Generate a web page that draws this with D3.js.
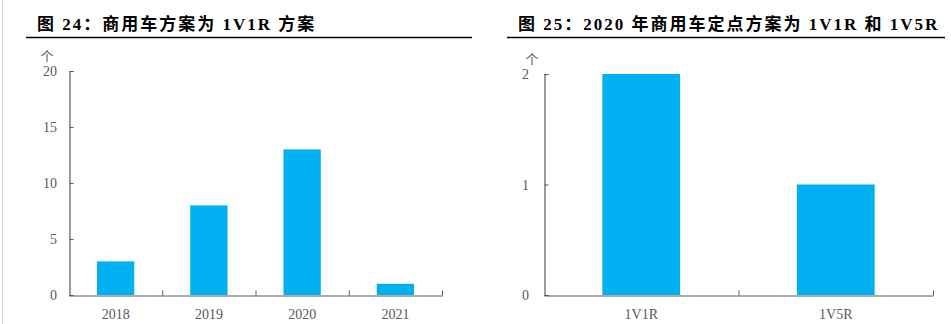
<!DOCTYPE html>
<html>
<head>
<meta charset="utf-8">
<script src="https://cdn.jsdelivr.net/npm/d3@7"></script>
<style>
  body { margin: 0; background: #fff; }
  svg { display: block; }
  .title { font-family: "Liberation Serif", "Noto Sans CJK SC", serif; font-weight: bold; font-size: 17px; fill: #000; letter-spacing: 2px; }
  .lbl { font-family: "Liberation Serif", serif; font-size: 14px; fill: #595959; }
  .unit { font-family: "Noto Sans CJK SC", sans-serif; font-size: 13px; fill: #595959; }
</style>
</head>
<body>
<svg id="chart" width="951" height="324"></svg>
<script>
// data
const years = ['2018', '2019', '2020', '2021']
const yearCounts = [3, 8, 13, 1]
const yearTicks = [0, 5, 10, 15, 20]

const schemes = ['1V1R', '1V5R']
const schemeCounts = [2, 1]
const schemeTicks = [0, 1, 2]

const barColor = '#00b0f0'
const axisColor = '#595959'

const svg = d3.select('#chart')

// faint page edge on the left
svg.append('line')
    .attr('x1', 2.5).attr('x2', 2.5).attr('y1', 0).attr('y2', 324)
    .attr('stroke', '#d9d9d9')

const panel = (opt) => {
  const g = svg.append('g')

  g.append('text')
      .attr('class', 'title')
      .attr('x', opt.titleX).attr('y', 30)
      .text(opt.title)

  g.append('line')
      .attr('x1', opt.ruleX[0]).attr('x2', opt.ruleX[1])
      .attr('y1', 37.5).attr('y2', 37.5)
      .attr('stroke', '#000').attr('stroke-width', 1.5)

  const x = d3.scaleBand()
      .domain(opt.cats)
      .range([opt.left, opt.right])
      .paddingInner(0.6).paddingOuter(0.3)

  const xb = d3.scaleLinear()
      .domain([0, opt.cats.length])
      .range([opt.left, opt.right])

  const y = d3.scaleLinear()
      .domain([0, d3.max(opt.ticks)])
      .range([opt.bottom, opt.top])

  g.selectAll('rect')
    .data(opt.values)
    .enter().append('rect')
      .attr('x', (d, i) => x(opt.cats[i]))
      .attr('width', x.bandwidth())
      .attr('y', d => y(d))
      .attr('height', d => y(0) - y(d))
      .attr('fill', barColor)

  // y axis, ticks pointing inward
  const ya = g.append('g')
      .attr('transform', `translate(${opt.left + 0.5},0)`)
      .call(d3.axisRight(y).tickValues(opt.ticks).tickSize(4).tickFormat(''))
  ya.select('.domain').attr('stroke', axisColor).attr('stroke-width', 1.2)
  ya.selectAll('.tick line').attr('stroke', axisColor)

  g.selectAll('.ylbl')
    .data(opt.ticks)
    .enter().append('text')
      .attr('class', 'lbl')
      .attr('x', opt.left - opt.lblGap)
      .attr('y', d => y(d) + 5)
      .attr('text-anchor', 'end')
      .text(d => d)

  g.append('text')
      .attr('class', 'unit')
      .attr('x', opt.unitX).attr('y', opt.top - 10)
      .attr('text-anchor', 'middle')
      .text('个')

  // x axis, boundary ticks pointing up
  const xa = g.append('g')
      .attr('transform', `translate(0,${opt.bottom + 0.5})`)
      .call(d3.axisTop(xb).tickValues(d3.range(1, opt.cats.length + 1)).tickSize(5).tickSizeOuter(0).tickFormat(''))
  xa.select('.domain').attr('stroke', axisColor).attr('stroke-width', 1.2)
  xa.selectAll('.tick line').attr('stroke', axisColor)

  g.selectAll('.xlbl')
    .data(opt.cats)
    .enter().append('text')
      .attr('class', 'lbl')
      .attr('x', d => x(d) + x.bandwidth() / 2)
      .attr('y', opt.bottom + 24)
      .attr('text-anchor', 'middle')
      .text(d => d)
}

panel({
  title: '图 24：商用车方案为 1V1R 方案',
  titleX: 37, ruleX: [26, 472],
  cats: years, values: yearCounts, ticks: yearTicks,
  left: 69, right: 442, top: 71, bottom: 295,
  lblGap: 12, unitX: 47
})

panel({
  title: '图 25：2020 年商用车定点方案为 1V1R 和 1V5R',
  titleX: 518, ruleX: [507, 945],
  cats: schemes, values: schemeCounts, ticks: schemeTicks,
  left: 544, right: 933, top: 74, bottom: 295,
  lblGap: 15, unitX: 532
})
</script>
</body>
</html>
